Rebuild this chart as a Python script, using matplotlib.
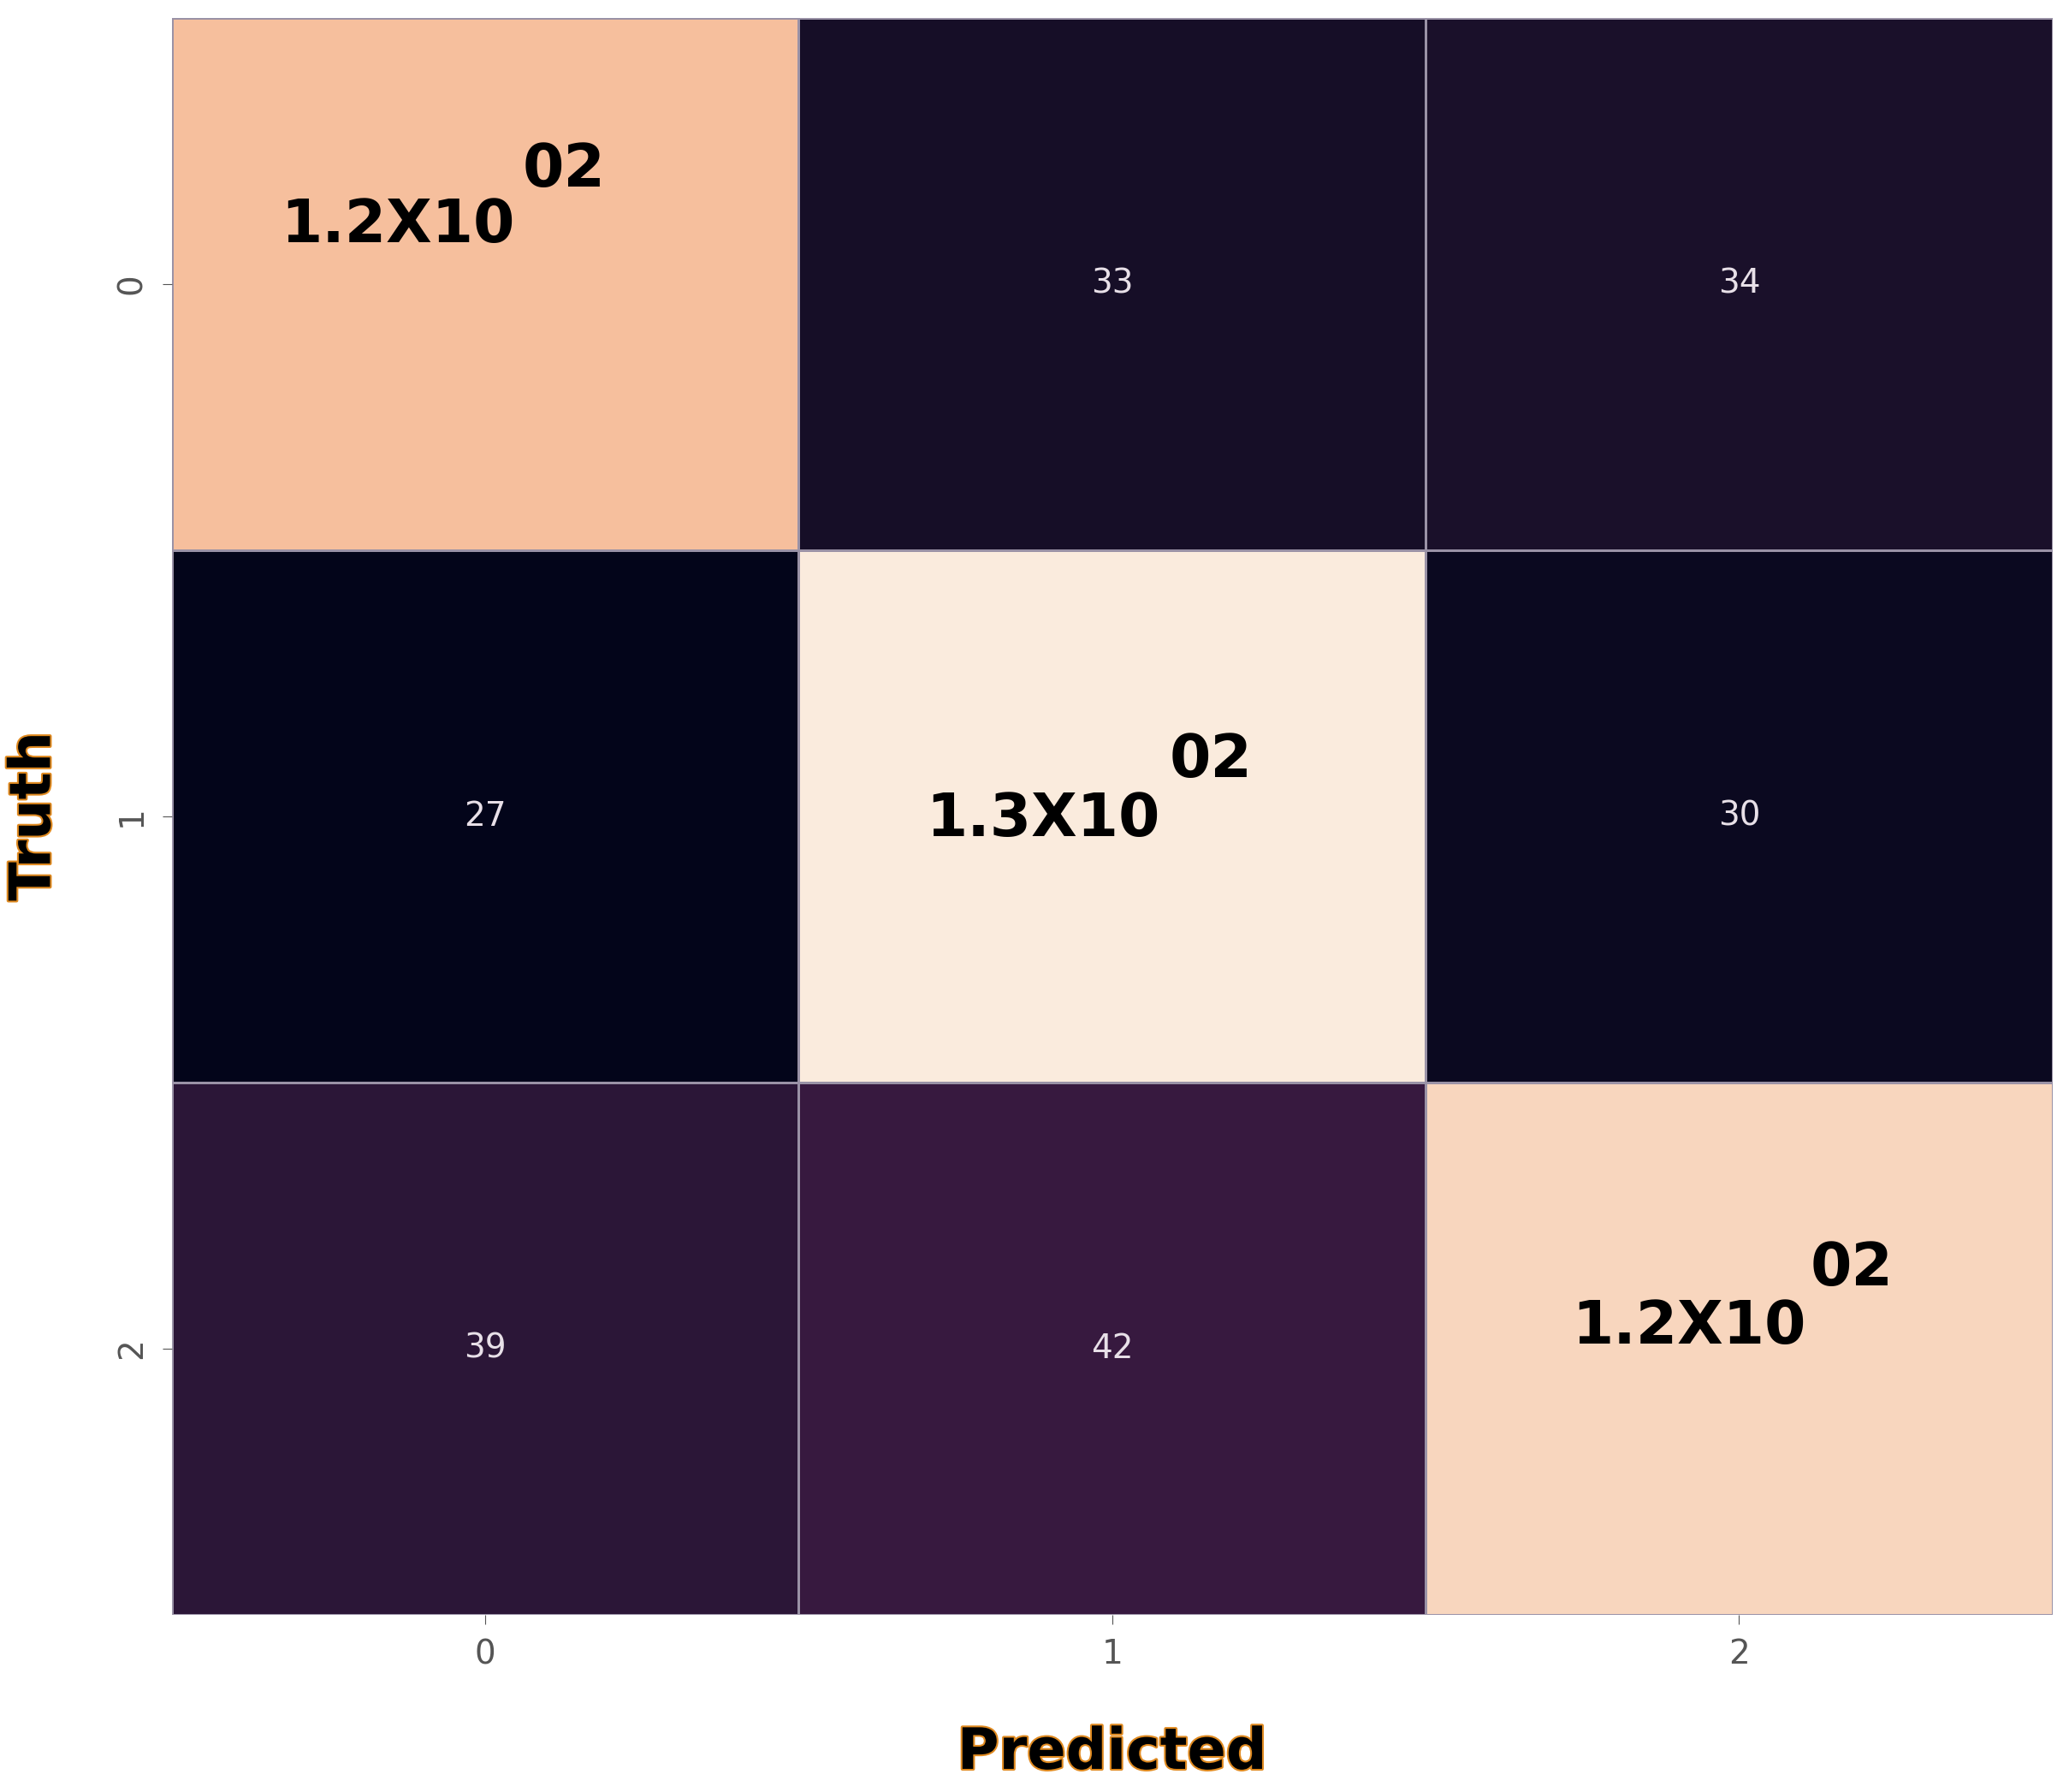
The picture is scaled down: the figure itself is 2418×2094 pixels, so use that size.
import matplotlib
matplotlib.use("Agg")
import matplotlib.pyplot as plt
import seaborn as sns
import numpy as np
import matplotlib.patheffects as pe

labels = ["0", "1", "2"]
row0 = [118, 33, 34]
row1 = [27, 130, 30]
row2 = [39, 42, 124]
diag_text = ["1.2X10", "1.3X10", "1.2X10"]
diag_sup = ["02", "02", "02"]

cm = np.array([row0, row1, row2])
fig = plt.figure(figsize=(24.18, 20.94), dpi=100)
ax = fig.add_axes([0.083, 0.099, 0.909, 0.891])
annot = np.array([[("" if i == j else str(cm[i, j])) for j in range(3)] for i in range(3)])
sns.heatmap(cm, ax=ax, cmap="rocket", cbar=False, annot=annot, fmt="",
            annot_kws={"fontsize": 28, "color": "#e8e0e8"},
            linewidths=2, linecolor="#9a92a6",
            xticklabels=labels, yticklabels=labels)
pos = [((0.36, 0.39), (0.625, 0.285)), ((1.39, 1.506), (1.657, 1.395)), ((2.42, 2.46), (2.68, 2.35))]
for k, ((mx, my), (sx, sy)) in enumerate(pos):
    ax.text(mx, my, diag_text[k], ha="center", va="center", fontsize=50, fontweight="bold", color="black")
    ax.text(sx, sy, diag_sup[k], ha="center", va="center", fontsize=50, fontweight="bold", color="black")
ax.tick_params(labelsize=28, length=8, colors="#555555", pad=12)
ax.set_xlabel("Predicted", fontsize=48, fontweight="bold", labelpad=45,
              path_effects=[pe.withStroke(linewidth=3, foreground="#e08a20")])
ax.set_ylabel("Truth", fontsize=48, fontweight="bold", labelpad=45,
              path_effects=[pe.withStroke(linewidth=3, foreground="#e08a20")])
fig.savefig("out.png", dpi=100)
